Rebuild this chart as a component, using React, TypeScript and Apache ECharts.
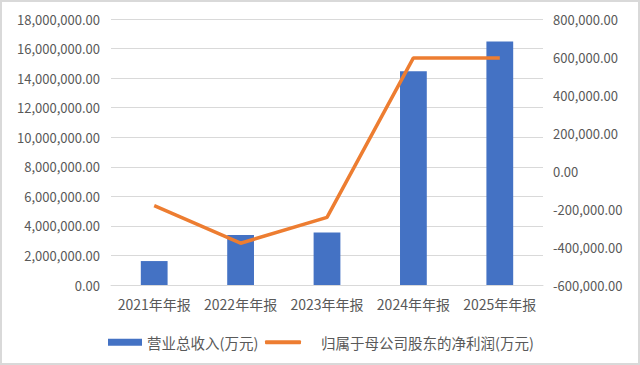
import React, { useEffect, useRef } from "react";
import * as echarts from "echarts";

const categories = ["2021年年报", "2022年年报", "2023年年报", "2024年年报", "2025年年报"];
const revenue = [1620000, 3380000, 3560000, 14460000, 16470000];
const netProfit = [-182000, -380000, -244000, 595000, 595000];
const revenueName = "营业总收入(万元)";
const profitName = "归属于母公司股东的净利润(万元)";

const fmt = (v: number) =>
  v.toLocaleString("en-US", { minimumFractionDigits: 2, maximumFractionDigits: 2 });

const FONT = "'Noto Sans CJK SC', 'Noto Sans', sans-serif";
const TXT = "#595959";

export default function App() {
  const ref = useRef<HTMLDivElement>(null);
  useEffect(() => {
    document.body.style.margin = "0";
    const chart = echarts.init(ref.current!, undefined, { renderer: "svg" });
    chart.setOption({
      animation: false,
      backgroundColor: "#ffffff",
      textStyle: { fontFamily: FONT },
      graphic: [
        {
          type: "rect",
          shape: { x: 1, y: 1, width: 638, height: 363 },
          style: { fill: "none", stroke: "#d9d9d9", lineWidth: 2 },
          silent: true,
        },
      ],
      grid: { left: 111, right: 97, top: 19, bottom: 80 },
      legend: [
        {
          left: 103,
          top: 330,
          itemWidth: 34,
          itemHeight: 7,
          textStyle: { color: TXT, fontSize: 14.5, fontFamily: FONT },
          data: [{ name: revenueName, icon: "rect" }],
        },
        {
          left: 260,
          top: 330,
          itemWidth: 36,
          itemHeight: 4,
          textStyle: { color: TXT, fontSize: 14.5, fontFamily: FONT, padding: [0, 0, 0, 15] },
          data: [{ name: profitName, icon: "roundRect" }],
        },
      ],
      xAxis: {
        type: "category",
        data: categories,
        axisLine: { lineStyle: { color: "#d9d9d9", width: 1 } },
        axisTick: { show: false },
        axisLabel: { color: TXT, fontSize: 14, margin: 12, interval: 0, fontFamily: FONT },
      },
      yAxis: [
        {
          type: "value",
          min: 0,
          max: 18000000,
          interval: 2000000,
          axisLine: { show: false },
          axisTick: { show: false },
          splitLine: { lineStyle: { color: "#d9d9d9", width: 1 } },
          axisLabel: { color: TXT, fontSize: 13, margin: 11, formatter: fmt, fontFamily: FONT },
        },
        {
          type: "value",
          min: -600000,
          max: 800000,
          interval: 200000,
          axisLine: { show: false },
          axisTick: { show: false },
          splitLine: { show: false },
          axisLabel: { color: TXT, fontSize: 13, margin: 10, formatter: fmt, fontFamily: FONT },
        },
      ],
      series: [
        {
          name: revenueName,
          type: "bar",
          data: revenue,
          barWidth: "31%",
          itemStyle: { color: "#4472C4" },
          yAxisIndex: 0,
        },
        {
          name: profitName,
          type: "line",
          data: netProfit,
          yAxisIndex: 1,
          symbol: "none",
          lineStyle: { color: "#ED7D31", width: 3.5 },
          itemStyle: { color: "#ED7D31" },
        },
      ],
    });
    return () => chart.dispose();
  }, []);
  return <div ref={ref} style={{ width: 640, height: 365 }} />;
}
